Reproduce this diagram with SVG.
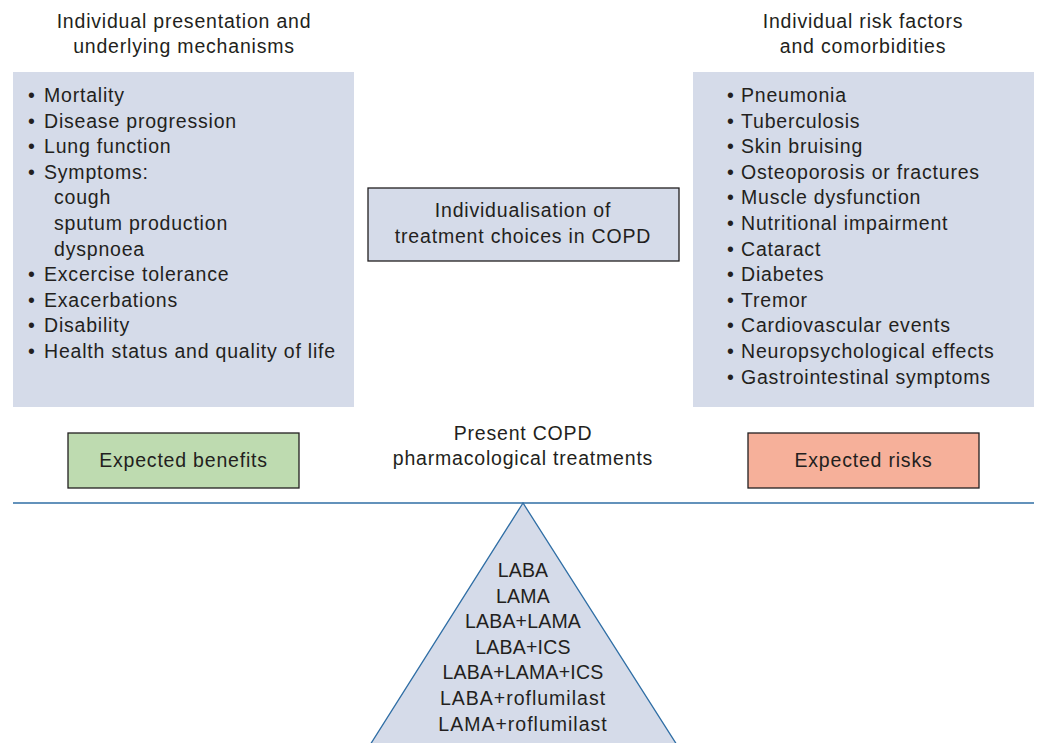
<svg xmlns="http://www.w3.org/2000/svg" width="1038" height="743" viewBox="0 0 1038 743">
<style>
text{font-family:"Liberation Sans",Arial,sans-serif;font-size:19.5px;fill:#231f20;letter-spacing:0.8px}
.c{text-anchor:middle}
.t{letter-spacing:0.2px}
.r{letter-spacing:1px}
.panel{fill:#d5dbe9}
.box{stroke:#231f20;stroke-width:1.3}
</style>
<rect width="1038" height="743" fill="#ffffff"/>
<g id="benefits-panel">
<text class="c" x="184" y="28">Individual presentation and</text>
<text class="c" x="184" y="53">underlying mechanisms</text>
<rect class="panel" x="13" y="72" width="341" height="335"/>
<g>
<text x="28" y="102">•</text><text x="44" y="102">Mortality</text>
<text x="28" y="127.6">•</text><text x="44" y="127.6">Disease progression</text>
<text x="28" y="153.2">•</text><text x="44" y="153.2">Lung function</text>
<text x="28" y="178.8">•</text><text x="44" y="178.8">Symptoms:</text>
<text x="54" y="204.4">cough</text>
<text x="54" y="230">sputum production</text>
<text x="54" y="255.6">dyspnoea</text>
<text x="28" y="281.2">•</text><text x="44" y="281.2">Excercise tolerance</text>
<text x="28" y="306.8">•</text><text x="44" y="306.8">Exacerbations</text>
<text x="28" y="332.4">•</text><text x="44" y="332.4">Disability</text>
<text x="28" y="358">•</text><text x="44" y="358">Health status and quality of life</text>
</g>
</g>
<g id="risks-panel">
<text class="c" x="863" y="28">Individual risk factors</text>
<text class="c" x="863" y="53">and comorbidities</text>
<rect class="panel" x="693" y="72" width="341" height="335"/>
<text x="727" y="102">•</text><text x="741" y="102">Pneumonia</text>
<text x="727" y="127.6">•</text><text x="741" y="127.6">Tuberculosis</text>
<text x="727" y="153.2">•</text><text x="741" y="153.2">Skin bruising</text>
<text x="727" y="178.8">•</text><text x="741" y="178.8">Osteoporosis or fractures</text>
<text x="727" y="204.4">•</text><text x="741" y="204.4">Muscle dysfunction</text>
<text x="727" y="230">•</text><text x="741" y="230">Nutritional impairment</text>
<text x="727" y="255.6">•</text><text x="741" y="255.6">Cataract</text>
<text x="727" y="281.2">•</text><text x="741" y="281.2">Diabetes</text>
<text x="727" y="306.8">•</text><text x="741" y="306.8">Tremor</text>
<text x="727" y="332.4">•</text><text x="741" y="332.4">Cardiovascular events</text>
<text x="727" y="358">•</text><text x="741" y="358">Neuropsychological effects</text>
<text x="727" y="383.6">•</text><text x="741" y="383.6">Gastrointestinal symptoms</text>
</g>
<g id="individualisation">
<rect class="panel box" x="368" y="188" width="311" height="73"/>
<text class="c" x="523" y="217">Individualisation of</text>
<text class="c" x="523" y="243">treatment choices in COPD</text>
</g>
<g id="expected-benefits">
<rect class="box" x="68" y="433" width="231" height="55" fill="#bedbb0"/>
<text class="c" x="183.5" y="467">Expected benefits</text>
</g>
<g id="expected-risks">
<rect class="box" x="748" y="433" width="231" height="55" fill="#f6b09a"/>
<text class="c" x="863.5" y="467">Expected risks</text>
</g>
<g id="treatments-label">
<text class="c" x="523" y="440">Present COPD</text>
<text class="c" x="523" y="465">pharmacological treatments</text>
</g>
<g id="connectors">
<line x1="13" y1="503" x2="1034" y2="503" stroke="#2f6ea5" stroke-width="1.3"/>
</g>
<g id="fulcrum">
<polygon points="523,503 370,745 677,745" fill="#d5dbe9" stroke="#2f6ea5" stroke-width="1.3"/>
<text class="c t" x="523" y="577">LABA</text>
<text class="c t" x="523" y="602.6">LAMA</text>
<text class="c t" x="523" y="628.2">LABA+LAMA</text>
<text class="c t" x="523" y="653.8">LABA+ICS</text>
<text class="c t" x="523" y="679.4">LABA+LAMA+ICS</text>
<text class="c r" x="523" y="705">LABA+roflumilast</text>
<text class="c r" x="523" y="730.6">LAMA+roflumilast</text>
</g>
</svg>
